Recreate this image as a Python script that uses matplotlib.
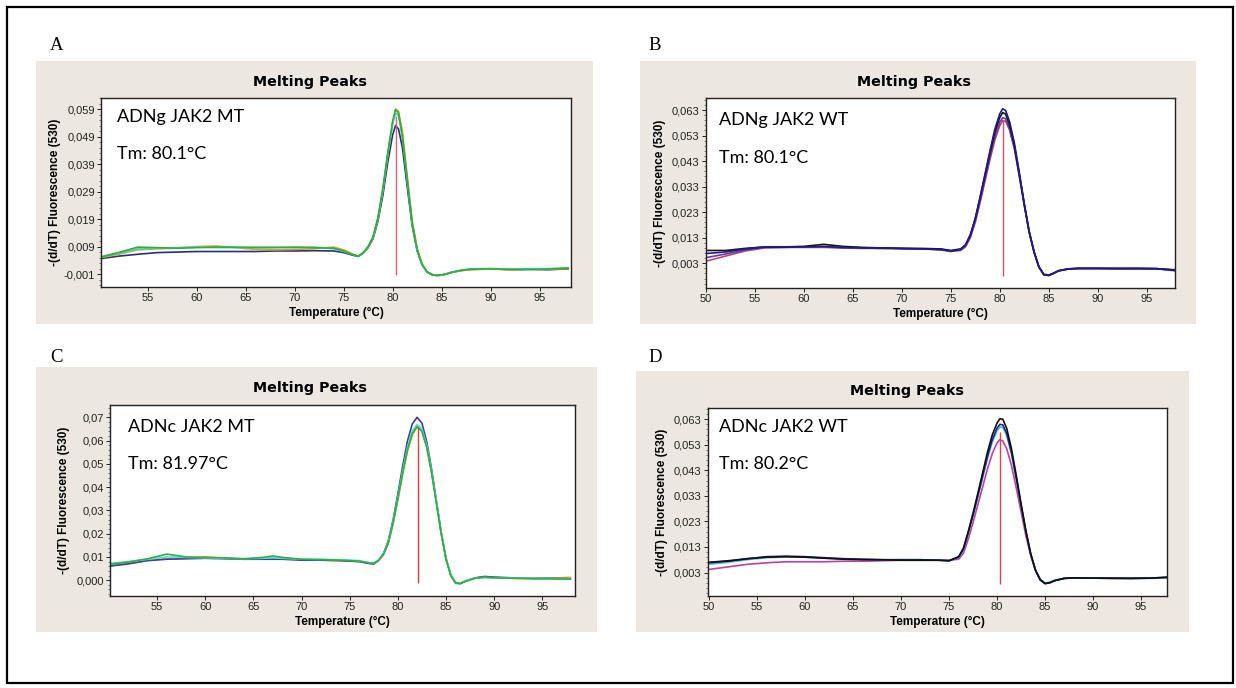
import matplotlib
matplotlib.use("Agg")
import matplotlib.pyplot as plt
from matplotlib.patches import Rectangle
from matplotlib.ticker import AutoMinorLocator

# ─── Data ─────────────────────────────────────────────────────────────────────

TEMP_ABD = [50, 52, 54, 56, 58, 60, 62, 64, 66, 68, 70, 72, 74,
            75, 76, 76.5, 77, 77.5, 78, 78.5, 79, 79.5, 80,
            80.3, 80.6, 81, 81.5, 82, 82.5, 83, 83.5, 84, 84.5, 85, 85.5, 86,
            87, 88, 90, 92, 94, 96, 98]

TEMP_C = [50, 52, 54, 56, 58, 60, 62, 64, 66, 67, 68, 70, 72, 74,
          76, 77, 77.5, 78, 78.5, 79, 79.5, 80, 80.5, 81, 81.5, 82,
          82.5, 83, 83.5, 84, 84.5, 85, 85.5, 86, 86.5,
          87, 88, 89, 90, 92, 94, 96, 98]

# A - ADNg JAK2 MT
A_NAVY = [0.0045, 0.0055, 0.0062, 0.0068, 0.0070, 0.0072, 0.0072, 0.0072, 0.0072, 0.0074, 0.0074, 0.0075, 0.0074,
          0.0068, 0.0058, 0.0054, 0.0066, 0.0086, 0.0118, 0.0182, 0.0275, 0.0395, 0.0495,
          0.0530, 0.0518, 0.0450, 0.0305, 0.0165, 0.0075, 0.0025, -0.0002, -0.0012, -0.0015, -0.0014, -0.0010, -0.0004,
          0.0003, 0.0007, 0.0009, 0.0006, 0.0007, 0.0006, 0.0009]
A_ORANGE = [0.0048, 0.0062, 0.0078, 0.0082, 0.0084, 0.0090, 0.0092, 0.0086, 0.0080, 0.0078, 0.0080, 0.0082, 0.0088,
            0.0078, 0.0062, 0.0056, 0.0066, 0.0088, 0.0122, 0.0190, 0.0292, 0.0422, 0.0538,
            0.0590, 0.0582, 0.0510, 0.0345, 0.0185, 0.0085, 0.0028, -0.0001, -0.0011, -0.0015, -0.0014, -0.0010, -0.0004,
            0.0002, 0.0006, 0.0008, 0.0006, 0.0008, 0.0007, 0.0010]
A_CYAN = [0.0050, 0.0065, 0.0082, 0.0084, 0.0086, 0.0088, 0.0086, 0.0086, 0.0088, 0.0088, 0.0086, 0.0088, 0.0082,
          0.0072, 0.0060, 0.0055, 0.0068, 0.0090, 0.0124, 0.0193, 0.0296, 0.0425, 0.0535,
          0.0575, 0.0565, 0.0490, 0.0325, 0.0172, 0.0078, 0.0025, -0.0002, -0.0012, -0.0014, -0.0013, -0.0009, -0.0003,
          0.0004, 0.0009, 0.0010, 0.0008, 0.0009, 0.0010, 0.0013]
A_GREEN = [0.0050, 0.0068, 0.0088, 0.0086, 0.0084, 0.0086, 0.0088, 0.0088, 0.0086, 0.0086, 0.0088, 0.0086, 0.0084,
           0.0074, 0.0060, 0.0055, 0.0068, 0.0090, 0.0125, 0.0195, 0.0300, 0.0430, 0.0545,
           0.0588, 0.0575, 0.0490, 0.0330, 0.0175, 0.0080, 0.0025, -0.0002, -0.0012, -0.0015, -0.0013, -0.0009, -0.0004,
           0.0004, 0.0008, 0.0009, 0.0007, 0.0007, 0.0008, 0.0012]

# B - ADNg JAK2 WT
B_MAGENTA = [0.0038, 0.0058, 0.0078, 0.0090, 0.0092, 0.0092, 0.0092, 0.0090, 0.0088, 0.0088, 0.0086, 0.0086, 0.0084,
             0.0078, 0.0080, 0.0094, 0.0130, 0.0190, 0.0268, 0.0352, 0.0436, 0.0512, 0.0568,
             0.0588, 0.0586, 0.0552, 0.0478, 0.0372, 0.0260, 0.0155, 0.0076, 0.0017, -0.0013, -0.0016, -0.0009, 0.0000,
             0.0007, 0.0009, 0.0009, 0.0009, 0.0008, 0.0008, 0.0003]
B_PURPLE = [0.0052, 0.0066, 0.0082, 0.0092, 0.0092, 0.0094, 0.0094, 0.0090, 0.0090, 0.0088, 0.0088, 0.0086, 0.0082,
            0.0076, 0.0082, 0.0098, 0.0136, 0.0198, 0.0278, 0.0362, 0.0448, 0.0525, 0.0582,
            0.0600, 0.0596, 0.0558, 0.0480, 0.0372, 0.0258, 0.0152, 0.0074, 0.0015, -0.0015, -0.0018, -0.0010, 0.0000,
            0.0007, 0.0009, 0.0009, 0.0008, 0.0008, 0.0008, 0.0000]
B_BLACK = [0.0080, 0.0080, 0.0088, 0.0094, 0.0094, 0.0096, 0.0104, 0.0096, 0.0092, 0.0090, 0.0088, 0.0088, 0.0086,
           0.0080, 0.0086, 0.0102, 0.0142, 0.0205, 0.0288, 0.0375, 0.0462, 0.0543, 0.0600,
           0.0620, 0.0614, 0.0572, 0.0490, 0.0378, 0.0262, 0.0155, 0.0075, 0.0016, -0.0014, -0.0017, -0.0009, 0.0001,
           0.0008, 0.0010, 0.0010, 0.0010, 0.0010, 0.0009, 0.0004]
B_NAVY = [0.0068, 0.0074, 0.0086, 0.0094, 0.0094, 0.0094, 0.0096, 0.0092, 0.0090, 0.0090, 0.0088, 0.0086, 0.0084,
          0.0078, 0.0084, 0.0100, 0.0140, 0.0205, 0.0290, 0.0380, 0.0470, 0.0555, 0.0615,
          0.0635, 0.0628, 0.0585, 0.0500, 0.0385, 0.0265, 0.0155, 0.0075, 0.0015, -0.0015, -0.0018, -0.0010, 0.0000,
          0.0008, 0.0010, 0.0010, 0.0009, 0.0010, 0.0009, 0.0002]

# C - ADNc JAK2 MT
C_ORANGE = [0.0062, 0.0072, 0.0086, 0.0092, 0.0094, 0.0100, 0.0094, 0.0090, 0.0092, 0.0094, 0.0092, 0.0088, 0.0086, 0.0084,
            0.0080, 0.0072, 0.0070, 0.0084, 0.0108, 0.0156, 0.0240, 0.0345, 0.0455, 0.0555, 0.0625, 0.0658,
            0.0642, 0.0575, 0.0468, 0.0338, 0.0208, 0.0096, 0.0024, -0.0010, -0.0013,
            -0.0004, 0.0008, 0.0014, 0.0012, 0.0008, 0.0008, 0.0009, 0.0012]
C_BLUE = [0.0060, 0.0070, 0.0084, 0.0090, 0.0092, 0.0094, 0.0092, 0.0090, 0.0090, 0.0090, 0.0090, 0.0086, 0.0086, 0.0084,
          0.0080, 0.0072, 0.0070, 0.0086, 0.0114, 0.0168, 0.0258, 0.0370, 0.0490, 0.0598, 0.0672, 0.0700,
          0.0675, 0.0595, 0.0478, 0.0340, 0.0205, 0.0092, 0.0020, -0.0013, -0.0015,
          -0.0005, 0.0010, 0.0016, 0.0013, 0.0010, 0.0008, 0.0008, 0.0006]
C_CYAN = [0.0072, 0.0080, 0.0090, 0.0100, 0.0098, 0.0096, 0.0094, 0.0092, 0.0094, 0.0096, 0.0094, 0.0090, 0.0090, 0.0088,
          0.0084, 0.0076, 0.0074, 0.0086, 0.0112, 0.0163, 0.0250, 0.0356, 0.0470, 0.0572, 0.0642, 0.0670,
          0.0650, 0.0580, 0.0470, 0.0338, 0.0206, 0.0095, 0.0023, -0.0010, -0.0012,
          -0.0003, 0.0009, 0.0012, 0.0010, 0.0009, 0.0008, 0.0007, 0.0005]
C_GREEN = [0.0068, 0.0078, 0.0092, 0.0112, 0.0100, 0.0098, 0.0096, 0.0092, 0.0098, 0.0104, 0.0098, 0.0090, 0.0088, 0.0086,
           0.0082, 0.0074, 0.0072, 0.0085, 0.0110, 0.0160, 0.0245, 0.0350, 0.0460, 0.0560, 0.0630, 0.0660,
           0.0640, 0.0570, 0.0460, 0.0330, 0.0200, 0.0090, 0.0020, -0.0012, -0.0014,
           -0.0005, 0.0008, 0.0012, 0.0010, 0.0008, 0.0006, 0.0006, 0.0004]

# D - ADNc JAK2 WT
D_MAGENTA = [0.0042, 0.0052, 0.0062, 0.0068, 0.0072, 0.0072, 0.0072, 0.0074, 0.0074, 0.0076, 0.0078, 0.0078, 0.0078,
             0.0078, 0.0082, 0.0105, 0.0160, 0.0225, 0.0295, 0.0365, 0.0435, 0.0495, 0.0538,
             0.0550, 0.0545, 0.0515, 0.0450, 0.0362, 0.0268, 0.0175, 0.0098, 0.0038, 0.0002, -0.0012, -0.0009, -0.0001,
             0.0007, 0.0008, 0.0008, 0.0007, 0.0007, 0.0008, 0.0010]
D_CYAN = [0.0062, 0.0070, 0.0080, 0.0088, 0.0090, 0.0090, 0.0086, 0.0084, 0.0082, 0.0080, 0.0080, 0.0080, 0.0078,
          0.0076, 0.0088, 0.0118, 0.0180, 0.0250, 0.0325, 0.0400, 0.0475, 0.0540, 0.0585,
          0.0600, 0.0598, 0.0568, 0.0495, 0.0398, 0.0292, 0.0190, 0.0103, 0.0040, 0.0003, -0.0011, -0.0008, 0.0000,
          0.0008, 0.0009, 0.0008, 0.0008, 0.0007, 0.0007, 0.0010]
D_NAVY = [0.0068, 0.0074, 0.0084, 0.0092, 0.0094, 0.0092, 0.0088, 0.0084, 0.0082, 0.0080, 0.0080, 0.0080, 0.0078,
          0.0076, 0.0090, 0.0122, 0.0185, 0.0255, 0.0330, 0.0408, 0.0485, 0.0550, 0.0595,
          0.0610, 0.0608, 0.0575, 0.0500, 0.0400, 0.0293, 0.0190, 0.0102, 0.0038, 0.0000, -0.0014, -0.0010, -0.0002,
          0.0007, 0.0009, 0.0008, 0.0008, 0.0007, 0.0008, 0.0012]
D_BLACK = [0.0070, 0.0076, 0.0084, 0.0090, 0.0092, 0.0090, 0.0086, 0.0082, 0.0080, 0.0080, 0.0078, 0.0078, 0.0078,
           0.0076, 0.0092, 0.0125, 0.0190, 0.0262, 0.0340, 0.0420, 0.0500, 0.0568, 0.0615,
           0.0632, 0.0630, 0.0595, 0.0515, 0.0410, 0.0300, 0.0195, 0.0105, 0.0040, 0.0002, -0.0013, -0.0010, -0.0002,
           0.0007, 0.0009, 0.0008, 0.0007, 0.0007, 0.0008, 0.0012]

PANEL_LETTERS = ['A', 'B', 'C', 'D']
SAMPLE_NAMES = ['ADNg JAK2 MT', 'ADNg JAK2 WT', 'ADNc JAK2 MT', 'ADNc JAK2 WT']
TM_LABELS = ['Tm: 80.1°C', 'Tm: 80.1°C', 'Tm: 81.97°C', 'Tm: 80.2°C']
TM_MARKERS = [80.3, 80.3, 82.05, 80.35]          # where the red line sits
TM_LINE_TOP = [0.0565, 0.059, 0.066, 0.058]
TM_LINE_BOTTOM = [-0.0014, -0.0020, -0.0013, -0.0015]
TM_COLORS = ['#d8607c', '#cc5468', '#e23a3a', '#e6403f']

YTICKS_A = [-0.001, 0.009, 0.019, 0.029, 0.039, 0.049, 0.059]
YLABELS_A = ['-0,001', '0,009', '0,019', '0,029', '0,039', '0,049', '0,059']
YTICKS_BD = [0.003, 0.013, 0.023, 0.033, 0.043, 0.053, 0.063]
YLABELS_BD = ['0,003', '0,013', '0,023', '0,033', '0,043', '0,053', '0,063']
YTICKS_C = [0.0, 0.01, 0.02, 0.03, 0.04, 0.05, 0.06, 0.07]
YLABELS_C = ['0,000', '0,01', '0,02', '0,03', '0,04', '0,05', '0,06', '0,07']
XTICKS_AC = [55, 60, 65, 70, 75, 80, 85, 90, 95]
XTICKS_BD = [50, 55, 60, 65, 70, 75, 80, 85, 90, 95]

# ─── Layout (pixel boxes of the 1236x688 page) ────────────────────────────────

W, H = 1236, 688
BEIGE = '#ece8e1'


def fx(x):
    return x / W


def fy(y):
    return 1 - y / H


panels = [
    dict(beige=(36, 61, 593, 324), plot=(101, 98, 571, 287), letter=(57, 45),
         title=(310, 82), note=(117, 117, 154),
         xlim=(50.25, 98.2), ylim=(-0.0057, 0.063),
         x=TEMP_ABD, yt=YTICKS_A, yl=YLABELS_A, xt=XTICKS_AC,
         curves=[(A_NAVY, '#2a2f7a'), (A_ORANGE, '#e39b2d'),
                 (A_CYAN, '#3fd8d0'), (A_GREEN, '#2fae3c')]),
    dict(beige=(640, 61, 1196, 324), plot=(706, 98, 1175, 288), letter=(655, 45),
         title=(914, 82), note=(719, 120, 158),
         xlim=(50.0, 97.9), ylim=(-0.0067, 0.0677),
         x=TEMP_ABD, yt=YTICKS_BD, yl=YLABELS_BD, xt=XTICKS_BD,
         curves=[(B_MAGENTA, '#b8457a'), (B_PURPLE, '#6a3a9a'),
                 (B_BLACK, '#151515'), (B_NAVY, '#1c1c8c')]),
    dict(beige=(36, 367, 597, 632), plot=(110, 405, 575, 596), letter=(56, 357),
         title=(310, 388), note=(128, 427, 464),
         xlim=(50.1, 98.4), ylim=(-0.0068, 0.0753),
         x=TEMP_C, yt=YTICKS_C, yl=YLABELS_C, xt=XTICKS_AC,
         curves=[(C_ORANGE, '#e8a03a'), (C_BLUE, '#3b3fa0'),
                 (C_CYAN, '#52e0d8'), (C_GREEN, '#30b040')]),
    dict(beige=(636, 371, 1189, 632), plot=(708, 408, 1167, 596), letter=(655, 357),
         title=(907, 391), note=(719, 427, 464),
         xlim=(49.9, 97.7), ylim=(-0.0062, 0.0674),
         x=TEMP_ABD, yt=YTICKS_BD, yl=YLABELS_BD, xt=XTICKS_BD,
         curves=[(D_MAGENTA, '#c040a0'), (D_CYAN, '#56b8e6'),
                 (D_NAVY, '#1b2a80'), (D_BLACK, '#101010')]),
]

# ─── Figure ───────────────────────────────────────────────────────────────────

fig = plt.figure(figsize=(W / 100, H / 100), dpi=100)
fig.patch.set_facecolor('white')

# page frame
fig.patches.append(Rectangle((fx(7), fy(683)), fx(1233) - fx(7), fy(7) - fy(683),
                             transform=fig.transFigure, fill=False, lw=1.6, ec='black',
                             zorder=-4))

for i, p in enumerate(panels):
    bl, bt, br, bb = p['beige']
    fig.patches.append(Rectangle((fx(bl), fy(bb)), (br - bl) / W, (bb - bt) / H,
                                 transform=fig.transFigure, fc=BEIGE, ec='none', zorder=-5))

    pl, pt, pr, pb = p['plot']
    ax = fig.add_axes([fx(pl), fy(pb), (pr - pl) / W, (pb - pt) / H])
    ax.set_zorder(1)
    ax.set_facecolor('white')

    for ys, col in p['curves']:
        ax.plot(p['x'], ys, color=col, lw=1.2, solid_capstyle='butt')
    ax.vlines(TM_MARKERS[i], TM_LINE_BOTTOM[i], TM_LINE_TOP[i], color=TM_COLORS[i],
              lw=1.0, zorder=5)

    ax.set_xlim(*p['xlim'])
    ax.set_ylim(*p['ylim'])
    ax.set_xticks(p['xt'])
    ax.set_xticklabels([str(t) for t in p['xt']])
    ax.set_yticks(p['yt'])
    ax.set_yticklabels(p['yl'])
    ax.yaxis.set_minor_locator(AutoMinorLocator(5))
    ax.tick_params(axis='both', which='major', direction='out', length=3, width=0.7,
                   pad=1.5, labelsize=8, colors='#222222')
    ax.tick_params(axis='y', which='minor', direction='out', length=1.5, width=0.6,
                   colors='#666666')
    for lab in ax.get_xticklabels() + ax.get_yticklabels():
        lab.set_family('Liberation Sans')
    for s in ax.spines.values():
        s.set_linewidth(1.0)
        s.set_color('#222222')

    # sample name and melting temperature inside the plot
    nx, ny1, ny2 = p['note']
    ax.text(fx(nx), fy(ny1), SAMPLE_NAMES[i], transform=fig.transFigure,
            family='Lato', fontsize=13, ha='left', va='center', zorder=6)
    ax.text(fx(nx), fy(ny2), TM_LABELS[i], transform=fig.transFigure,
            family='Lato', fontsize=13, ha='left', va='center', zorder=6)

    # labels around the plot
    fig.text(fx(p['letter'][0]), fy(p['letter'][1]), PANEL_LETTERS[i],
             family='Liberation Serif', fontsize=13.5, ha='center', va='center')
    fig.text(fx(p['title'][0]), fy(p['title'][1]), 'Melting Peaks',
             family='DejaVu Sans', weight='bold', fontsize=10.3, ha='center', va='center')
    fig.text(fx((pl + pr) / 2), fy(pb + 26), 'Temperature (°C)',
             family='Liberation Sans', weight='bold', fontsize=8.5, ha='center', va='center')
    fig.text(fx(pl - 46), fy((pt + pb) / 2), '-(d/dT) Fluorescence (530)',
             family='Liberation Sans', weight='bold', fontsize=8.5, rotation=90,
             ha='center', va='center')

fig.savefig('out.png', dpi=100, facecolor='white')
